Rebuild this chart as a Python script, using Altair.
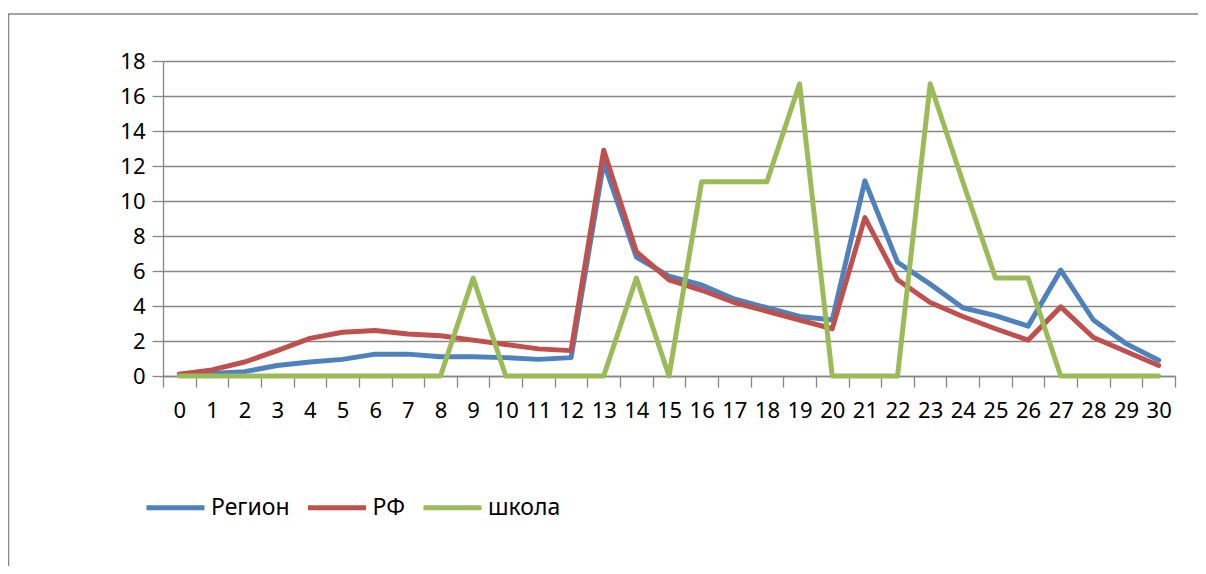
import altair as alt
import pandas as pd

days = list(range(31))
region = [0.1, 0.15, 0.25, 0.6, 0.8, 0.95, 1.25, 1.25, 1.1, 1.1, 1.05, 0.95, 1.05,
          12.2, 6.8, 5.7, 5.2, 4.4, 3.9, 3.4, 3.2, 11.15, 6.5, 5.25, 3.9, 3.45, 2.85,
          6.05, 3.2, 1.85, 0.9]
rf = [0.1, 0.35, 0.8, 1.45, 2.15, 2.5, 2.6, 2.4, 2.3, 2.05, 1.8, 1.55, 1.45,
      12.9, 7.1, 5.5, 4.9, 4.2, 3.7, 3.2, 2.7, 9.05, 5.5, 4.2, 3.4, 2.7, 2.05,
      3.95, 2.2, 1.4, 0.6]
school = [0, 0, 0, 0, 0, 0, 0, 0, 0, 5.6, 0, 0, 0, 0, 5.6, 0, 11.1, 11.1, 11.1,
          16.7, 0, 0, 0, 16.7, 11.1, 5.6, 5.6, 0, 0, 0, 0]
series = ["Регион", "РФ", "школа"]
colors = ["#4F81BD", "#C0504D", "#9BBB59"]
y_ticks = list(range(0, 19, 2))

rows = []
for name, vals in zip(series, [region, rf, school]):
    for d, v in zip(days, vals):
        rows.append({"day": d, "value": v, "series": name})
df = pd.DataFrame(rows)

FONT = "Noto Sans"
GRAY = "#868686"

x = alt.X(
    "day:O",
    bandPosition=0.5,
    scale=alt.Scale(type="band", paddingInner=0, paddingOuter=0),
    axis=alt.Axis(
        title=None, labelAngle=0, tickBand="extent", grid=False,
        domainColor=GRAY, domainWidth=1.3, tickColor=GRAY, tickWidth=1.3,
        tickSize=11, labelFont=FONT, labelFontSize=22, labelColor="#000000",
        labelPadding=13,
    ),
)
y = alt.Y(
    "value:Q",
    scale=alt.Scale(domain=[0, 18], nice=False),
    axis=alt.Axis(
        title=None, values=y_ticks, grid=True, gridColor=GRAY, gridWidth=1.3,
        domainColor=GRAY, domainWidth=1.3, tickColor=GRAY, tickWidth=1.3,
        tickSize=11, labelFont=FONT, labelFontSize=22, labelColor="#000000",
        labelPadding=7,
    ),
)
color = alt.Color(
    "series:N",
    scale=alt.Scale(domain=series, range=colors),
    legend=alt.Legend(
        title=None, orient="none", legendX=-19, legendY=415,
        direction="horizontal", symbolType="stroke", symbolSize=3364,
        symbolStrokeWidth=5, labelFont=FONT, labelFontSize=23,
        labelColor="#000000", columnPadding=7.5, labelOffset=4, padding=0,
    ),
)

layers = []
for name in series:
    layers.append(
        alt.Chart(df)
        .transform_filter(alt.datum.series == name)
        .mark_line(strokeWidth=5, strokeJoin="round", strokeCap="round")
        .encode(x=x, y=y, color=color)
    )

frame_df = pd.DataFrame({"a": [0]})
top_line = alt.Chart(frame_df).mark_rule(color="#878787", strokeWidth=1.5).encode(
    x=alt.value(-155), x2=alt.value(1035), y=alt.value(-47)
)
left_line = alt.Chart(frame_df).mark_rule(color="#878787", strokeWidth=1.5).encode(
    x=alt.value(-154.5), y=alt.value(-47), y2=alt.value(505)
)

chart = (
    alt.layer(top_line, left_line, *layers)
    .properties(
        width=1012, height=315,
        padding={"left": 155, "top": 53, "right": 23, "bottom": 190},
        autosize=alt.AutoSizeParams(type="none"),
    )
    .configure_view(stroke=None)
)

chart.save("out.html", embed_options={"renderer": "svg", "actions": False})
